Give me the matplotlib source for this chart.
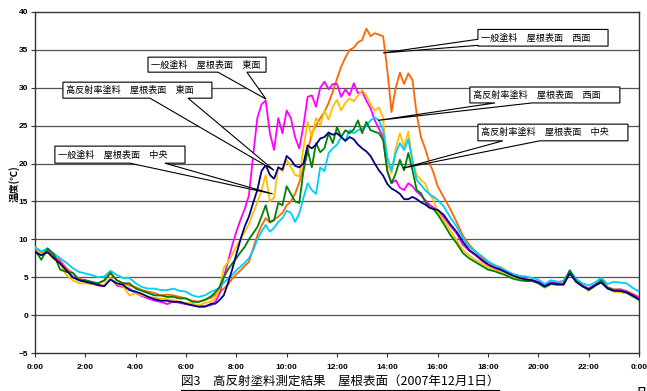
import numpy as np
import matplotlib.pyplot as plt
from matplotlib.patches import Polygon
from matplotlib.lines import Line2D

# sample times (hours): 15 min at night, 10 min in daytime, 15 min in the evening
hours = np.r_[np.arange(0, 7, 0.25), 7 + np.arange(54) / 6, np.arange(16, 24.01, 0.25)]

# roof surface temperatures (deg C)
# normal paint, east face
ippan_east = [8.5, 8.0, 8.4, 7.6, 7.0, 5.9, 5.0, 4.6, 4.5, 4.2, 3.9, 3.9, 4.9, 3.9, 3.7, 3.5, 2.9, 2.5, 2.2, 1.9,
              1.75, 1.45, 1.8, 1.6, 1.45, 1.3, 1.2, 1.2,
              1.3, 1.8, 2.8, 5.0, 7.0, 9.2, 11.0, 12.6, 14.0, 15.8,
              21.0, 26.0, 27.8, 28.3, 24.0, 21.8, 26.0, 24.0, 27.0, 26.0,
              23.5, 22.0, 25.0, 28.8, 29.0, 27.5, 30.0, 30.8, 29.8, 30.5,
              30.5, 28.8, 29.8, 29.0, 30.6, 29.3, 29.5, 28.3, 27.3, 25.7,
              24.6, 23.5, 19.0, 17.4, 17.8, 16.8, 16.5, 17.4, 17.0, 16.3,
              15.8, 15.2, 14.6, 14.2,
              13.8, 12.9, 11.8, 10.8, 9.3, 8.5, 7.9, 7.2, 6.6, 6.2, 5.9, 5.6, 5.1, 4.9, 4.7, 4.6, 4.4,
              3.9, 4.3, 4.2, 4.1, 5.6, 4.4, 3.9, 3.5, 4.0, 4.5, 3.6, 3.3, 3.4, 3.1, 2.7, 2.3]
# normal paint, west face
ippan_west = [8.8, 8.2, 8.6, 7.9, 7.2, 6.2, 5.5, 4.8, 4.6, 4.3, 4.2, 4.5, 5.5, 4.6, 4.2, 3.9, 3.7, 3.3, 3.1, 2.9,
              2.6, 2.7, 2.6, 2.4, 2.2, 1.9, 1.75, 2.0,
              2.3, 2.7, 3.0, 3.5, 4.0, 4.8, 5.4, 5.9, 6.5, 7.0,
              8.8, 10.5, 11.8, 12.8, 12.2, 12.6, 13.0, 13.5, 14.5, 15.0,
              16.0, 17.5, 19.5, 21.5, 24.0, 25.0, 26.0, 26.8, 28.0, 29.5,
              31.2, 32.8, 34.0, 35.0, 35.3, 36.0, 36.3, 37.8, 36.8, 37.2,
              37.0, 36.8, 32.3, 26.8, 30.0, 32.0, 30.5, 31.9, 31.0, 26.5,
              23.5, 22.0, 20.2, 18.8,
              17.0, 15.5, 14.0, 12.3, 10.5, 9.3, 8.4, 7.6, 7.0, 6.6, 6.3, 5.8, 5.4, 5.0, 4.8, 4.6, 4.4,
              3.9, 4.3, 4.2, 4.2, 5.7, 4.5, 3.9, 3.5, 4.0, 4.6, 3.7, 3.4, 3.4, 3.2, 2.8, 2.4]
# normal paint, centre
ippan_center = [8.7, 8.1, 8.3, 7.4, 6.8, 5.3, 4.6, 4.2, 4.2, 4.1, 4.1, 3.9, 4.9, 4.1, 3.8, 2.6, 2.9, 2.6, 2.4, 2.3,
                2.2, 2.1, 2.0, 1.75, 1.6, 1.5, 1.3, 1.6,
                1.8, 2.3, 3.5, 6.2, 7.0, 8.0, 9.0, 10.0, 11.0, 12.0,
                13.5, 14.8, 16.5, 18.5, 15.0, 15.5, 19.5, 19.0, 20.5, 19.5,
                18.5, 18.3, 22.0, 25.5, 23.5, 26.0, 25.0, 27.0, 25.8, 27.5,
                28.4, 27.0, 28.0, 28.6, 28.2, 29.0, 29.7, 29.0, 27.8, 27.0,
                27.4, 26.0, 20.0, 18.7, 22.0, 24.0, 22.2, 24.2, 20.4, 18.5,
                17.8, 17.4, 16.0, 15.2,
                13.6, 12.5, 11.2, 9.9, 8.6, 7.9, 7.3, 6.8, 6.3, 6.0, 5.7, 5.4, 5.0, 4.8, 4.6, 4.5, 4.2,
                3.6, 4.1, 4.0, 4.1, 5.7, 4.4, 3.8, 3.2, 3.8, 4.4, 3.5, 3.1, 3.0, 2.9, 2.4, 2.2]
# high reflectance paint, west face
hansha_west = [9.0, 8.4, 8.8, 8.1, 7.5, 6.9, 6.2, 5.7, 5.5, 5.3, 5.0, 5.1, 5.85, 5.3, 4.9, 4.9, 4.2, 3.7, 3.5, 3.5,
               3.3, 3.3, 3.5, 3.2, 3.1, 2.6, 2.4, 2.6,
               3.1, 3.3, 3.6, 4.3, 4.8, 5.3, 5.9, 6.4, 6.9, 7.5,
               8.5, 10.0, 11.0, 11.9, 11.0, 11.5, 12.3, 12.8, 13.8, 13.5,
               12.3, 13.4, 15.5, 17.4, 16.5, 16.0, 19.5, 19.0, 21.4, 22.0,
               22.5, 23.5, 23.0, 24.4, 24.0, 24.4, 24.6, 25.0, 25.7, 26.1,
               25.7, 24.4, 20.8, 19.1, 21.4, 22.7, 21.8, 23.2, 20.4, 17.8,
               17.2, 16.5, 16.0, 15.6,
               15.2, 14.3, 12.9, 11.7, 10.2, 9.0, 8.4, 7.8, 7.1, 6.6, 6.2, 5.8, 5.4, 5.2, 5.1, 4.9, 4.7,
               4.1, 4.6, 4.4, 4.5, 5.9, 4.8, 4.2, 3.9, 4.3, 4.9, 4.1, 4.4, 4.3, 4.2, 3.6, 3.1]
# high reflectance paint, centre
hansha_center = [8.6, 7.3, 8.8, 8.0, 6.0, 5.7, 5.6, 4.6, 4.6, 4.4, 4.2, 4.6, 5.6, 4.6, 4.2, 4.2, 3.5, 3.2, 2.9, 2.6,
                 2.6, 2.4, 2.4, 2.2, 2.2, 1.75, 1.75, 2.0,
                 2.5, 3.0, 3.7, 5.0, 6.0, 6.8, 7.5, 8.3, 9.0, 10.0,
                 10.8, 11.6, 13.0, 14.5, 12.3, 12.5, 14.8, 14.5, 17.0, 16.0,
                 15.0, 14.8, 19.0, 21.8, 19.5, 22.7, 21.5, 22.0, 24.0, 22.7,
                 24.8, 23.5, 24.4, 24.0, 24.5, 25.7, 24.0, 25.5, 24.4, 24.2,
                 24.0, 23.1, 19.0, 17.4, 18.7, 20.5, 19.1, 21.4, 19.1, 16.5,
                 16.1, 15.0, 14.2, 14.0,
                 13.3, 12.0, 10.6, 9.5, 8.2, 7.5, 7.0, 6.5, 6.0, 5.8, 5.5, 5.2, 4.8, 4.6, 4.5, 4.5, 4.2,
                 3.7, 4.1, 4.0, 4.1, 5.9, 4.5, 3.9, 3.3, 3.9, 4.6, 3.6, 3.3, 3.2, 3.0, 2.5, 2.0]
# high reflectance paint, east face
hansha_east = [8.3, 7.9, 8.3, 7.5, 6.8, 5.9, 5.0, 4.6, 4.4, 4.2, 4.0, 3.8, 4.7, 4.2, 4.0, 3.3, 3.1, 2.8, 2.4, 2.1,
               1.9, 1.9, 1.75, 1.75, 1.5, 1.3, 1.1, 1.1,
               1.5, 1.5, 2.0, 2.6, 4.2, 6.0, 8.0, 10.0, 11.7, 13.0,
               14.8, 16.5, 19.0, 19.8, 18.5, 18.0, 19.5, 19.2, 21.0, 20.5,
               19.7, 19.5, 20.0, 22.4, 22.0, 22.5, 23.3, 23.5, 24.1, 23.8,
               24.0, 23.5, 23.0, 23.5, 23.2, 22.5, 22.0, 21.6, 21.0, 20.0,
               19.1, 18.4, 17.3, 16.7, 16.4, 16.0, 15.3, 15.3, 15.6, 15.3,
               14.9, 14.6, 14.2, 14.0,
               13.9, 13.2, 12.0, 11.0, 9.7, 8.6, 8.0, 7.3, 6.7, 6.3, 6.0, 5.6, 5.2, 4.9, 4.7, 4.6, 4.3,
               3.8, 4.2, 4.1, 4.0, 5.5, 4.4, 3.8, 3.4, 3.9, 4.3, 3.5, 3.2, 3.2, 3.0, 2.6, 2.1]

x_ticks = list(range(0, 25, 2))
x_labels = ['0:00', '2:00', '4:00', '6:00', '8:00', '10:00', '12:00', '14:00', '16:00',
            '18:00', '20:00', '22:00', '0:00']

cjk = ['Noto Sans CJK JP', 'DejaVu Sans']

fig = plt.figure(figsize=(6.47, 3.91), dpi=100)
ax = fig.add_axes([35 / 647, 1 - 353 / 391, 604 / 647, 341 / 391])

series = [
    (ippan_west, '#FF6600'),
    (ippan_east, '#FF00FF'),
    (ippan_center, '#FFC000'),
    (hansha_west, '#00CCFF'),
    (hansha_center, '#008000'),
    (hansha_east, '#000080'),
]
for vals, col in series:
    ax.plot(hours, vals, color=col, lw=1.3, zorder=3)

ax.set_xlim(0, 24)
ax.set_ylim(-5, 40)
ax.set_yticks(range(-5, 41, 5))
ax.set_xticks(x_ticks)
ax.set_xticklabels(x_labels)
for y in range(0, 40, 5):
    ax.axhline(y, color='#555555', lw=0.9, zorder=1)
for s in ax.spines.values():
    s.set_color('#333333')
    s.set_linewidth(1.0)
ax.tick_params(direction='out', length=3, width=0.8, color='#333333', pad=2)
for lab in ax.get_xticklabels() + ax.get_yticklabels():
    lab.set_family('Liberation Sans')
    lab.set_fontweight('bold')
    lab.set_fontsize(6)
ax.tick_params(axis='x', pad=5)

# callouts: box (t0, t1, T_bottom, T_top), pointer base, target
callouts = [
    ('一般塗料　屋根表面　西面', (17.60, 22.77, 35.5, 37.7), 'left', (36.4, 35.6), (13.83, 34.6)),
    ('高反射率塗料　屋根表面　西面', (17.28, 23.24, 28.0, 30.1), 'bottom', (18.28, 19.75), (13.63, 25.7)),
    ('高反射率塗料　屋根表面　中央', (17.60, 23.56, 23.0, 25.2), 'bottom', (18.59, 20.06), (14.62, 19.4)),
    ('一般塗料　屋根表面　東面', (4.49, 9.18, 32.06, 34.04), 'bottom', (7.27, 8.42), (9.18, 28.5)),
    ('高反射率塗料　屋根表面　東面', (1.11, 7.03, 28.63, 30.74), 'bottom', (4.57, 6.08), (9.5, 19.1)),
    ('一般塗料　屋根表面　中央', (0.79, 5.96, 20.05, 22.3), 'bottom', (3.77, 5.16), (9.44, 16.0)),
]
for text, (t0, t1, yb, yt), side, base, tgt in callouts:
    if side == 'bottom':
        verts = [(t0, yb), base[0:1] + (yb,), tgt, (base[1], yb), (t1, yb), (t1, yt), (t0, yt)]
        verts[1] = (base[0], yb)
    else:
        verts = [(t0, yb), (t1, yb), (t1, yt), (t0, yt), (t0, base[0]), tgt, (t0, base[1])]
    ax.add_patch(Polygon(verts, closed=True, facecolor='white', edgecolor='black',
                         lw=0.8, zorder=5, clip_on=False))
    ax.text(t0 + 0.12, (yb + yt) / 2, text, family=cjk, fontsize=6.6,
            va='center', ha='left', zorder=6)

fig.text(14 / 647, 1 - 184 / 391, '温度(℃)', rotation=90, family=cjk, fontsize=7,
         fontweight='bold', ha='center', va='center')

title = fig.text(340 / 647, 1 - 382 / 391, '図3　高反射塗料測定結果　屋根表面（2007年12月1日）',
                 family=cjk, fontsize=9, ha='center', va='center')
fig.text(641 / 647, -6 / 391, '日', family=cjk, fontsize=7, fontweight='bold',
         ha='center', va='bottom')

fig.canvas.draw()
bb = title.get_window_extent().transformed(fig.transFigure.inverted())
fig.add_artist(Line2D([bb.x0, bb.x1], [1 - 389.5 / 391] * 2, color='black', lw=0.8,
                      transform=fig.transFigure))

fig.savefig('out.png', dpi=100)
